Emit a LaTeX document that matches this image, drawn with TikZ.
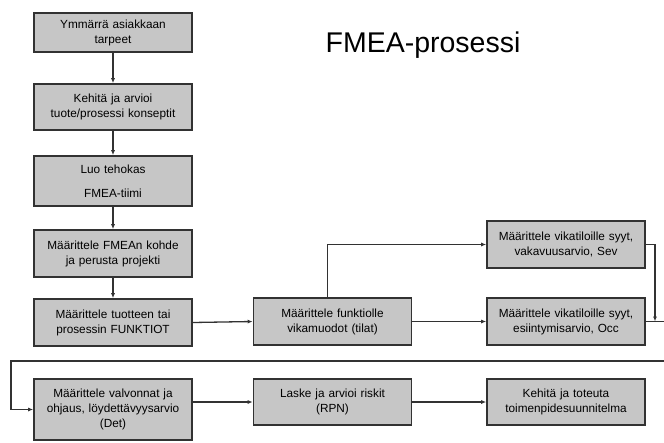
\documentclass[tikz,border=0pt]{standalone}
\usepackage{fontspec}
\setmainfont{Liberation Sans}
\usetikzlibrary{arrows.meta, positioning}
\definecolor{boxgray}{RGB}{198,198,198}
\definecolor{linegray}{RGB}{50,50,50}
\tikzstyle{vaihe} = [draw=linegray, fill=boxgray, line width=1.6pt, rectangle, minimum width=158pt, text width=154pt, align=center, inner sep=1pt, font=\fontsize{11.8}{15}\selectfont]
\tikzstyle{nuoli} = [draw=linegray, line width=1.3pt, -{Latex[length=5pt,width=4pt]}]

\begin{document}
\begin{tikzpicture}[x=1pt, y=-1pt]
		\useasboundingbox (0,0) rectangle (664,442);
		\node[font=\fontsize{28.5}{34}\selectfont] (otsikko) at (423,45) {FMEA-prosessi};
		% vasen sarake
		\node[vaihe, minimum height=39pt] (b1) at (113,32.5) {Ymmärrä asiakkaan\\tarpeet};
		\node[vaihe, minimum height=46pt] (b2) at (113,107) {Kehitä ja arvioi\\tuote/prosessi konseptit};
		\node[vaihe, minimum height=50pt] (b3) at (113,181) {Luo tehokas\\[9pt]FMEA-tiimi};
		\node[vaihe, minimum height=47pt] (b4) at (113,253.5) {Määrittele FMEAn kohde\\ja perusta projekti};
		\node[vaihe, minimum height=47pt] (b5) at (113,322.5) {Määrittele tuotteen tai\\prosessin FUNKTIOT};
		\node[vaihe, minimum height=61pt] (b6) at (113,409.5) {Määrittele valvonnat ja\\ohjaus, löydettävyysarvio\\(Det)};
		% keski- ja oikea sarake
		\node[vaihe, minimum height=47pt] (m1) at (332.5,321.5) {Määrittele funktiolle\\vikamuodot (tilat)};
		\node[vaihe, minimum height=47pt] (r1) at (566,244.5) {Määrittele vikatiloille syyt,\\vakavuusarvio, Sev};
		\node[vaihe, minimum height=47pt] (r2) at (566,321.5) {Määrittele vikatiloille syyt,\\esiintymisarvio, Occ};
		\node[vaihe, minimum height=46pt] (m2) at (332.5,402) {Laske ja arvioi riskit\\(RPN)};
		\node[vaihe, minimum height=46pt] (r3) at (566,402) {Kehitä ja toteuta\\toimenpidesuunnitelma};
		\coordinate (liitos) at (655,321.5);
		\coordinate (kiertoR) at (680,361);
		\coordinate (kiertoL) at (11,361);
		% nuolet
		\draw[nuoli] (b1) -- (b2);
		\draw[nuoli] (b2) -- (b3);
		\draw[nuoli] (b3) -- (b4);
		\draw[nuoli] (b4) -- (b5);
		\draw[nuoli] (b5.east) -- (m1.west);
		\draw[nuoli] ([xshift=-5pt]m1.north) |- (r1.west);
		\draw[nuoli] (m1.east) -- (r2.west);
		\draw[nuoli] (r1.east) -| (liitos);
		\draw[nuoli] (r2.east) -| (kiertoR) -- (kiertoL) |- (b6.west);
		\draw[nuoli] (b6.east |- m2.west) -- (m2.west);
		\draw[nuoli] (m2.east) -- (r3.west);
	\end{tikzpicture}
\end{document}
